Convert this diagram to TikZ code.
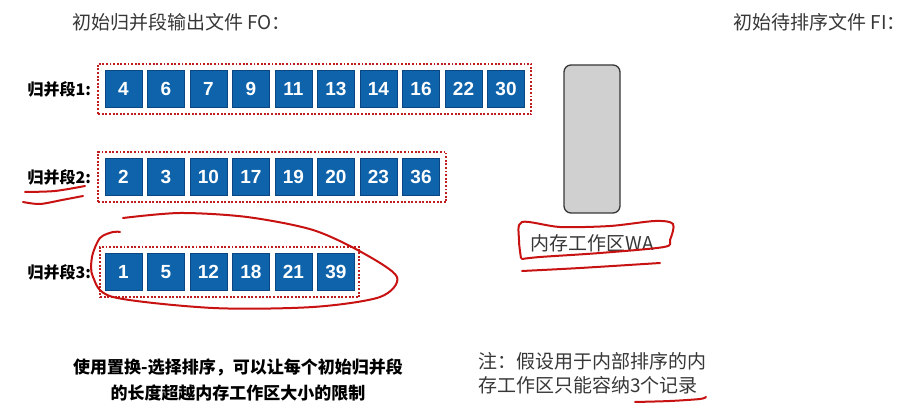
\documentclass[tikz,border=0pt]{standalone}
\usepackage{fontspec}
\setmainfont{Liberation Sans}
\newfontfamily\cjk{Noto Sans CJK SC}
\usetikzlibrary{fit}
\definecolor{cell-blue}{RGB}{14,99,170}
\definecolor{cell-edge}{RGB}{10,70,130}
\definecolor{run-red}{RGB}{190,30,30}
\definecolor{pen-red}{RGB}{200,18,18}
\definecolor{G-txt}{RGB}{55,55,55}
\definecolor{WA-gray}{RGB}{208,208,208}
\tikzset{
  cell/.style={draw=cell-edge, fill=cell-blue, line width=0.6pt, minimum width=37pt, minimum height=37pt, inner sep=0pt, text=white, font=\fontsize{19}{20}\selectfont\bfseries},
  run/.style={draw=run-red, line width=1.9pt, dash pattern=on 1.9pt off 1.7pt, inner sep=6.5pt},
  runlabel/.style={anchor=west, font=\fontsize{16}{18}\selectfont\cjk\bfseries},
  memory/.style={draw=G-txt, fill=WA-gray, rounded corners=7pt, line width=1.3pt, minimum width=56pt, minimum height=148pt},
  caption/.style={text=G-txt, font=\fontsize{19}{23.5}\selectfont\cjk, inner sep=0pt},
  pen/.style={draw=pen-red, line width=2pt, line cap=round, line join=round}
}

\begin{document}
\begin{tikzpicture}[x=1pt,y=-1pt]
\useasboundingbox (0,0) rectangle (914,406);

% titles
\node[caption, anchor=west] (fo) at (72,22) {初始归并段输出文件 FO：};
\node[caption, anchor=east] (fi) at (906,22) {初始待排序文件 FI：};

% runs
\node[runlabel] (lab1) at (24,89) {归并段1:};
\node[runlabel] (lab2) at (24,177) {归并段2:};
\node[runlabel] (lab3) at (24,272) {归并段3:};
\foreach \v [count=\i] in {4,6,7,9,11,13,14,16,22,30}
  \node[cell] (a\i) at (81+42.5*\i,89) {\v};
\foreach \v [count=\i] in {2,3,10,17,19,20,23,36}
  \node[cell] (b\i) at (81+42.5*\i,177) {\v};
\foreach \v [count=\i] in {1,5,12,18,21,39}
  \node[cell] (c\i) at (81+42.5*\i,272) {\v};
\node[run, fit=(a1)(a10)] (run1) {};
\node[run, fit=(b1)(b8)] (run2) {};
\node[run, fit=(c1)(c6), inner xsep=4.5pt] (run3) {};

% work area
\node[memory] (wa) at (592,139) {};
\node[caption] (walab) at (592,243) {内存工作区WA};

% notes
\node[font=\fontsize{17}{26.5}\selectfont\cjk\bfseries, align=center] (why) at (238,380) {使用置换-选择排序，可以让每个初始归并段\\的长度超越内存工作区大小的限制};
\node[caption, align=left, anchor=west] (note) at (478,373.5) {注：假设用于内部排序的内\\存工作区只能容纳3个记录};

% hand marks
\draw[pen] plot[smooth] coordinates {(25,192) (55,191) (85,186)};
\draw[pen] plot[smooth] coordinates {(23,202) (40,204) (62,200) (83,196)};
\draw[pen] plot[smooth] coordinates {(123,218) (180,213) (247,217) (313,230) (363,253) (397,277) (380,297) (313,307) (213,308) (113,297) (93,277) (92,257) (100,238) (113,232) (120,232)};
\draw[pen] plot[smooth] coordinates {(521,258) (519,240) (522,222) (560,227) (610,226) (655,221) (673,224) (670,240) (664,247) (600,253) (540,257) (522,259)};
\draw[pen] plot[smooth] coordinates {(522,271) (580,268) (660,263)};
\draw[pen] plot[smooth] coordinates {(635,402) (670,401) (700,399) (706,397)};
\end{tikzpicture}
\end{document}
